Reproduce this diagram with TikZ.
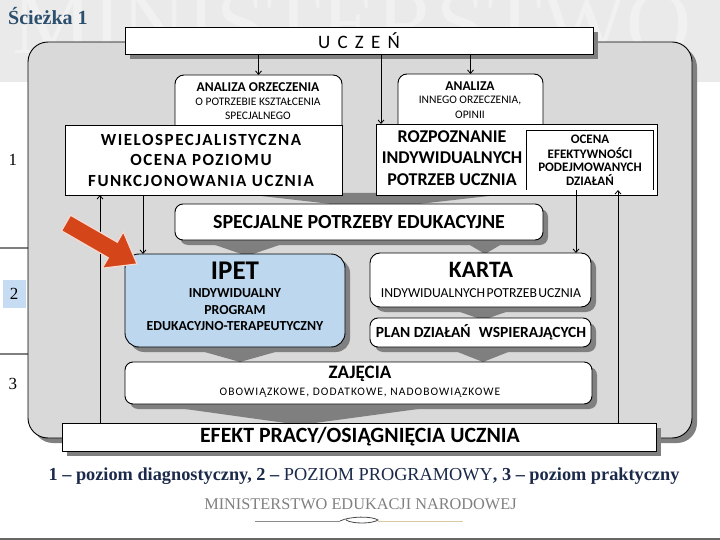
\documentclass[tikz,border=0pt]{standalone}
\usepackage{fontspec}
\setmainfont{Liberation Serif}
\newfontfamily\carl{Carlito}
\newfontfamily\carlsp[LetterSpace=9]{Carlito}
\usetikzlibrary{shadows,arrows.meta}
\newcommand\fsz[1]{\fontsize{#1}{#1}\selectfont}
\definecolor{bandgray}{HTML}{EAEAEA}
\definecolor{wmgray}{HTML}{F1F1F1}
\definecolor{panelgray}{HTML}{D9D9D9}
\definecolor{chevgray}{HTML}{7F7F7F}
\definecolor{ipetblue}{HTML}{BDD7EE}
\definecolor{numblue}{HTML}{C5DCF2}
\definecolor{redarrow}{HTML}{D4461A}
\definecolor{titleblue}{HTML}{2D4F6E}
\definecolor{navy}{HTML}{1B2A4A}
\definecolor{goldline}{HTML}{D9C9A0}
\tikzset{
  box/.style={draw=black, line width=0.9pt, fill=white, inner sep=0pt, outer sep=0pt, anchor=north west},
  shad/.style={drop shadow={shadow xshift=5pt, shadow yshift=-5pt, fill=black!50, opacity=1}},
  txt/.style={inner sep=0pt, text=black},
  arr/.style={line width=0.8pt, -{Straight Barb[length=3.5pt,width=6pt]}},
  chev/.style={fill=chevgray},
}
\begin{document}
\begin{tikzpicture}[x=1pt,y=-1pt]
\useasboundingbox (0,0) rectangle (720,540);
% top band with watermark
\fill[bandgray] (0,0) rectangle (720,82);
\begin{scope}
\clip (0,0) rectangle (720,82);
\node[inner sep=0pt, text=wmgray, font=\fsz{90}] (wm) at (352,24) {MINISTERSTWO};
\end{scope}
% title
\node[txt, text=titleblue, font=\bfseries\fsz{20}, anchor=west] (title) at (8,16) {Ścieżka 1};
% level labels
\draw[chevgray, line width=2pt] (0,248) -- (28,248);
\draw[chevgray, line width=2pt] (0,354) -- (28,354);
\node[txt, font=\fsz{17}] (l1) at (13,160) {1};
\node[fill=numblue, inner sep=0pt, minimum width=23pt, minimum height=28pt, font=\fsz{17}] (l2) at (14,294) {2};
\node[txt, font=\fsz{17}] (l3) at (13,384) {3};
% main panel
\node[box, fill=panelgray, rounded corners=20pt, shad, minimum width=664pt, minimum height=396pt] (panel) at (28,42) {};
% chevrons
\fill[chev] (235,193) -- (515,193) -- (375,209) -- cycle;
\fill[chev] (195,238) -- (300,238) -- (247,256) -- cycle;
\fill[chev] (458,238) -- (512,238) -- (485,254) -- cycle;
\fill[chev] (180,345) -- (300,345) -- (240,362) -- cycle;
\fill[chev] (440,305) -- (526,305) -- (483,320) -- cycle;
\fill[chev] (440,345) -- (526,345) -- (483,362) -- cycle;
\fill[chev] (135,402) -- (470,402) -- (300,425) -- cycle;
% boxes
\node[box, shad, minimum width=468pt, minimum height=27pt] (ucz) at (125,27) {};
\node[box, rounded corners=9pt, minimum width=167pt, minimum height=62pt] (ana1) at (175,75) {};
\node[box, rounded corners=9pt, minimum width=145pt, minimum height=60pt] (ana2) at (398,74) {};
\node[box, minimum width=277pt, minimum height=70pt] (wielo) at (65,125) {};
\node[box, minimum width=281pt, minimum height=71pt] (rozp) at (376,124) {};
\node[box, draw=none, fill=none, minimum width=127pt, minimum height=60pt] (ocena) at (526,130) {};
\draw[line width=0.8pt] (ocena.south west) -- (ocena.north west) -- (ocena.north east) -- (ocena.south east);
\node[box, shad, rounded corners=8pt, minimum width=368pt, minimum height=36pt] (spec) at (175,204) {};
\node[box, shad, fill=ipetblue, rounded corners=14pt, minimum width=220pt, minimum height=93pt] (ipet) at (125,254) {};
\node[box, shad, rounded corners=10pt, minimum width=221pt, minimum height=54pt] (karta) at (370,253) {};
\node[box, shad, rounded corners=8pt, minimum width=221pt, minimum height=29pt] (plan) at (370,318) {};
\node[box, shad, rounded corners=8pt, minimum width=467pt, minimum height=42pt] (zaj) at (125,362) {};
\node[box, shad, minimum width=594pt, minimum height=28pt] (efekt) at (62,423) {};
% connectors
\draw[arr] (ucz.south -| ana1.north) -- (ana1.north);
\draw[arr] (ucz.south -| ana2.north) -- (ana2.north);
\draw[arr] (ucz.south -| 381,0) -- (rozp.north -| 381,0);
\draw[arr] (efekt.north -| 100,0) -- (wielo.south -| 100,0);
\draw[arr] (wielo.south -| 143,0) -- (ipet.north -| 143,0);
\draw[arr] (ocena.south -| 576,0) -- (karta.north -| 576,0);
\draw[arr] (efekt.north -| 618,0) -- (ocena.south -| 618,0);
% red arrow
\filldraw[fill=redarrow, draw=white!80!redarrow, line width=1.2pt, line join=miter]
  (70.5,215.2) -- (117.3,242.2) -- (123.3,231.8) -- (137,264) -- (102.3,268.2) -- (108.3,257.8) -- (61.5,230.8) -- cycle;
% texts
\node[txt, font={\carl\fsz{19}}] (uczt) at (359,41) {U\hspace{0.38em}C\hspace{0.38em}Z\hspace{0.38em}E\hspace{0.38em}Ń};
\node[txt, font={\carl\bfseries\fsz{13.5}}] (ana1a) at (258,87) {ANALIZA ORZECZENIA};
\node[txt, font={\carl\fsz{11.5}}] (ana1b) at (258,102) {O POTRZEBIE KSZTAŁCENIA};
\node[txt, font={\carl\fsz{11.5}}] (ana1c) at (258,116) {SPECJALNEGO};
\node[txt, font={\carl\bfseries\fsz{13.5}}] (ana2a) at (470,86) {ANALIZA};
\node[txt, font={\carl\fsz{11.5}}] (ana2b) at (470,101) {INNEGO ORZECZENIA,};
\node[txt, font={\carl\fsz{11.5}}] (ana2c) at (470,115) {OPINII};
\node[txt, font={\carlsp\bfseries\fsz{17}}] (w1) at (201,140) {WIELOSPECJALISTYCZNA};
\node[txt, font={\carlsp\bfseries\fsz{17}}] (w2) at (201,160) {OCENA POZIOMU};
\node[txt, font={\carlsp\bfseries\fsz{17}}] (w3) at (201,181) {FUNKCJONOWANIA UCZNIA};
\node[txt, font={\carl\bfseries\fsz{18}}] (r1) at (452,137) {ROZPOZNANIE};
\node[txt, font={\carl\bfseries\fsz{18}}] (r2) at (452,158) {INDYWIDUALNYCH};
\node[txt, font={\carl\bfseries\fsz{18}}] (r3) at (452,180) {POTRZEB UCZNIA};
\node[txt, font={\carl\bfseries\fsz{13}}] (o1) at (590,139) {OCENA};
\node[txt, font={\carl\bfseries\fsz{13}}] (o2) at (590,153) {EFEKTYWNOŚCI};
\node[txt, font={\carl\bfseries\fsz{13}}] (o3) at (590,167) {PODEJMOWANYCH};
\node[txt, font={\carl\bfseries\fsz{13}}] (o4) at (590,180) {DZIAŁAŃ};
\node[txt, font={\carl\bfseries\fsz{20}}] (spect) at (359,222) {SPECJALNE POTRZEBY EDUKACYJNE};
\node[txt, font={\carl\bfseries\fsz{27}}] (ipet1) at (235,271) {IPET};
\node[txt, font={\carl\bfseries\fsz{13.8}}] (ipet2) at (235,293) {INDYWIDUALNY};
\node[txt, font={\carl\bfseries\fsz{13.8}}] (ipet3) at (235,310) {PROGRAM};
\node[txt, font={\carl\bfseries\fsz{13.8}}] (ipet4) at (235,326) {EDUKACYJNO-TERAPEUTYCZNY};
\node[txt, font={\carl\bfseries\fsz{23.5}}] (karta1) at (481,270) {KARTA};
\node[txt, font={\carl\fsz{13.7}}] (karta2) at (481,293) {INDYWIDUALNYCH\hspace{0.1em}POTRZEB\hspace{0.1em}UCZNIA};
\node[txt, font={\carl\bfseries\fsz{15.5}}] (plant) at (481,332) {PLAN DZIAŁAŃ\hspace{0.3em} WSPIERAJĄCYCH};
\node[txt, font={\carl\bfseries\fsz{19}}] (zaj1) at (360,374) {ZAJĘCIA};
\node[txt, font={\carlsp\fsz{11.5}}] (zaj2) at (360,393) {OBOWIĄZKOWE, DODATKOWE, NADOBOWIĄZKOWE};
\node[txt, font={\carl\bfseries\fsz{21.8}}] (efektt) at (360,437) {EFEKT PRACY/OSIĄGNIĘCIA UCZNIA};
% footer
\node[txt, text=navy, font=\bfseries\fsz{18.3}] (legend) at (364,476) {1 – poziom diagnostyczny, 2 – {\mdseries POZIOM PROGRAMOWY}, 3 – poziom praktyczny};
\node[txt, text=black!50, font=\fsz{16.3}] (men) at (360.5,504) {MINISTERSTWO EDUKACJI NARODOWEJ};
\draw[black!45, line width=0.7pt] (255,521) -- (340,521);
\draw[black!70, line width=0.8pt] (340,521) .. controls (350,516) and (372,516) .. (378,520) .. controls (372,524) and (352,524) .. (346,520);
\draw[goldline, line width=0.8pt] (378,521) -- (463,521);
\draw[black!60, line width=1.5pt] (0,539) -- (720,539);
\end{tikzpicture}
\end{document}
